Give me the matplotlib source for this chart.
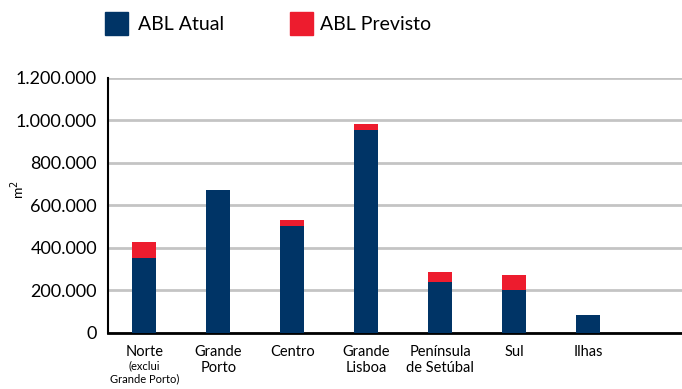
import matplotlib
matplotlib.use("Agg")
import matplotlib.pyplot as plt
import matplotlib.transforms as mtransforms

plt.rcParams['font.family'] = ['Lato', 'DejaVu Sans']

# ABL per region (m2)
regions = ["Norte", "Grande\nPorto", "Centro", "Grande\nLisboa", "Península\nde Setúbal", "Sul", "Ilhas"]
abl_atual = [350000, 670000, 500000, 957000, 238000, 200000, 82000]
abl_previsto = [76000, 0, 29000, 24000, 47000, 70000, 0]
yticks = [0, 200000, 400000, 600000, 800000, 1000000, 1200000]
ytick_labels = ["0", "200.000", "400.000", "600.000", "800.000", "1.000.000", "1.200.000"]

BLUE = "#003466"
RED = "#ed1c2e"

fig = plt.figure(figsize=(6.82, 3.89), dpi=100)
ax = fig.add_axes([108/682, 1 - 332.5/389, 1 - 108/682, (332.5 - 78)/389])

x = list(range(len(regions)))
w = 0.32
ax.bar(x, abl_atual, width=w, color=BLUE, zorder=3)
ax.bar(x, abl_previsto, width=w, bottom=abl_atual, color=RED, zorder=3)

ax.set_xlim(-0.49, 7.27)
ax.set_ylim(0, 1200000)
ax.set_yticks(yticks)
ax.set_yticklabels(ytick_labels, fontsize=13)
ax.tick_params(axis='y', length=0, pad=8)
ax.set_xticks([])
ax.yaxis.grid(True, color="#c4c4c4", lw=2, zorder=0)
for s in ["top", "right"]:
    ax.spines[s].set_visible(False)
ax.spines["left"].set_linewidth(1.5)
ax.spines["bottom"].set_linewidth(2)

# x labels
trans = mtransforms.blended_transform_factory(ax.transData, fig.transFigure)
for i, lab in enumerate(regions):
    ax.text(i, 1 - 345/389, lab, transform=trans, ha="center", va="top",
            fontsize=10.5, linespacing=1.2, clip_on=False)
ax.text(0, 1 - 360/389, "(exclui\nGrande Porto)", transform=trans, ha="center", va="top",
        fontsize=8, linespacing=1.3, clip_on=False)

fig.text(18/682, 1 - 190/389, "m$^{2}$", rotation=90, ha="center", va="center", fontsize=10)

# legend
fig.patches.append(plt.Rectangle((105/682, 1 - 35/389), 23/682, 23/389,
                                 transform=fig.transFigure, color=BLUE))
fig.text(138/682, 1 - 24/389, "ABL Atual", fontsize=14, va="center")
fig.patches.append(plt.Rectangle((290/682, 1 - 35/389), 23/682, 23/389,
                                 transform=fig.transFigure, color=RED))
fig.text(320/682, 1 - 24/389, "ABL Previsto", fontsize=14, va="center")

fig.savefig("out.png", dpi=100)
